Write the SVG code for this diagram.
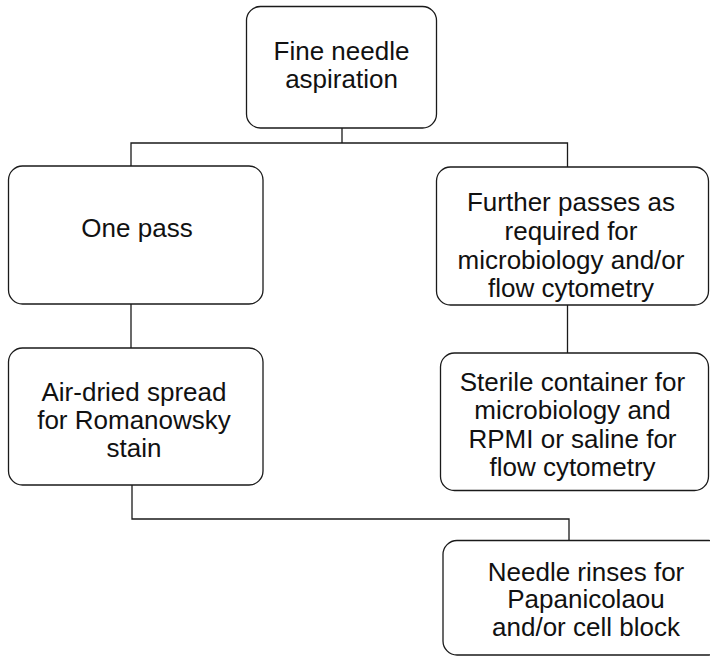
<svg xmlns="http://www.w3.org/2000/svg" width="710" height="656" viewBox="0 0 710 656">
<style>
.box{fill:#fff;stroke:#1a1a1a;stroke-width:1.3}
.lbl{font-family:"Liberation Sans",Arial,sans-serif;font-size:26px;fill:#111;text-anchor:middle}
.conn{fill:none;stroke:#1a1a1a;stroke-width:1.3}
</style>
<rect width="710" height="656" fill="#fff"/>
<g id="connectors">
<path class="conn" d="M342 128 V143"/>
<path class="conn" d="M131 166 V143 H567.5 V167"/>
<path class="conn" d="M131 304 V348"/>
<path class="conn" d="M567.5 305 V353"/>
<path class="conn" d="M132 485 V519 H569 V540.5"/>
</g>
<g id="fna">
<rect class="box" x="246.5" y="6.5" width="190" height="121.5" rx="14"/>
<text class="lbl" x="341.5" y="59.5">Fine needle</text>
<text class="lbl" x="341.5" y="88">aspiration</text>
</g>
<g id="onepass">
<rect class="box" x="8.5" y="166" width="254.5" height="138" rx="14"/>
<text class="lbl" x="137" y="237">One pass</text>
</g>
<g id="further">
<rect class="box" x="436.5" y="167" width="272" height="138" rx="14"/>
<text class="lbl" x="571" y="211">Further passes as</text>
<text class="lbl" x="571" y="240">required for</text>
<text class="lbl" x="571" y="268.5">microbiology and/or</text>
<text class="lbl" x="571" y="297">flow cytometry</text>
</g>
<g id="airdried">
<rect class="box" x="8.5" y="348" width="254.5" height="137" rx="14"/>
<text class="lbl" x="134" y="401">Air-dried spread</text>
<text class="lbl" x="134" y="429">for Romanowsky</text>
<text class="lbl" x="134" y="457">stain</text>
</g>
<g id="sterile">
<rect class="box" x="440.5" y="353" width="268" height="137.5" rx="14"/>
<text class="lbl" x="572.5" y="391">Sterile container for</text>
<text class="lbl" x="572.5" y="419">microbiology and</text>
<text class="lbl" x="572.5" y="447.5">RPMI or saline for</text>
<text class="lbl" x="572.5" y="475.5">flow cytometry</text>
</g>
<g id="needle">
<rect class="box" x="443" y="540.5" width="280" height="114.5" rx="14"/>
<text class="lbl" x="586" y="581">Needle rinses for</text>
<text class="lbl" x="586" y="608">Papanicolaou</text>
<text class="lbl" x="586" y="635.5">and/or cell block</text>
</g>
</svg>
